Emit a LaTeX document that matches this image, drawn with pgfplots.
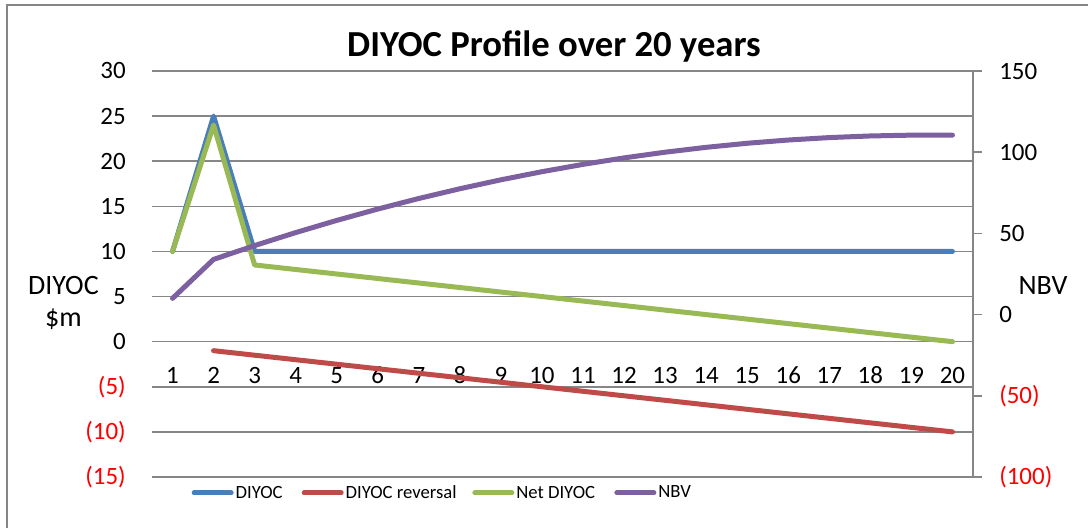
\documentclass[border=0pt]{standalone}
\usepackage{pgfplots}
\pgfplotsset{compat=1.18}
\usepackage{pgfplotstable}
\usepackage{fontspec}
\setmainfont{Carlito}
\definecolor{cblue}{HTML}{4A7EBB}
\definecolor{cred}{HTML}{BE4B48}
\definecolor{cgreen}{HTML}{98B954}
\definecolor{cpurple}{HTML}{7D60A0}
\definecolor{cgrid}{HTML}{868686}

\pgfplotstableread{
x diyoc net nbv
1 10 10 10
2 25 24 34
3 10 8.5 42.5
4 10 8 50.5
5 10 7.5 58
6 10 7 65
7 10 6.5 71.5
8 10 6 77.5
9 10 5.5 83
10 10 5 88
11 10 4.5 92.5
12 10 4 96.5
13 10 3.5 100
14 10 3 103
15 10 2.5 105.5
16 10 2 107.5
17 10 1.5 109
18 10 1 110
19 10 0.5 110.5
20 10 0 110.5
}\maindata

\pgfplotstableread{
x rev
2 -1
3 -1.5
4 -2
5 -2.5
6 -3
7 -3.5
8 -4
9 -4.5
10 -5
11 -5.5
12 -6
13 -6.5
14 -7
15 -7.5
16 -8
17 -8.5
18 -9
19 -9.5
20 -10
}\revdata

\newcommand{\negred}{\ifdim\tick pt<0pt \pgfmathtruncatemacro\v{abs(\tick)}\textcolor{red}{(\v)}\else\pgfmathtruncatemacro\v{\tick}\v\fi}

\begin{document}
\begin{tikzpicture}
\path[use as bounding box] (0,0) rectangle (816pt,396pt);
\draw[cgrid, line width=1.5pt] (5.25pt,0pt) -- (5.25pt,392.25pt) -- (816pt,392.25pt);

\begin{axis}[
  at={(114pt,38.25pt)}, anchor=south west, scale only axis,
  width=615.75pt, height=304.5pt,
  xmin=0.5, xmax=20.5, ymin=-15, ymax=30,
  xtick={1,...,20}, ytick={-15,-10,...,30},
  ymajorgrids, grid style={cgrid, line width=1.1pt},
  axis line style={draw=none}, tick style={draw=none},
  tick label style={font=\fontsize{18.7}{19}\selectfont},
  yticklabel={\negred},
  yticklabel style={anchor=east, inner sep=0pt, xshift=-19.5pt},
  xticklabel={\pgfmathtruncatemacro\v{round(\tick)}\v},
  xticklabel style={anchor=base, inner sep=0pt, yshift=69.75pt},
  every axis plot/.append style={line width=3.75pt, line cap=round, line join=round},
  legend columns=4,
  legend style={at={(axis description cs:0.048,-0.0394)}, anchor=west, draw=none, fill=none,
    font=\fontsize{14}{15}\selectfont, inner sep=0pt,
    nodes={inner sep=0pt},
    column sep=0pt},
  legend image code/.code={\draw[#1] (0pt,0pt) -- (27.75pt,0pt);},
]
\addplot[cblue, no marks] table[x=x, y=diyoc] {\maindata};
\addlegendentry{\makebox[51pt][l]{\hspace{1.5pt}DIYOC}}
\addplot[cred, no marks] table[x=x, y=rev] {\revdata};
\addlegendentry{\makebox[96.5pt][l]{\hspace{1.5pt}DIYOC reversal}}
\addplot[cgreen, no marks] table[x=x, y=net] {\maindata};
\addlegendentry{\makebox[75pt][l]{\hspace{1.5pt}Net DIYOC}}
\addlegendimage{cpurple, line width=3.75pt, line cap=round}
\addlegendentry{\makebox[30pt][l]{\hspace{1.5pt}NBV}}
\end{axis}

\begin{axis}[
  at={(114pt,38.25pt)}, anchor=south west, scale only axis,
  width=615.75pt, height=304.5pt,
  xmin=0.5, xmax=20.5, ymin=-100, ymax=150,
  ytick={-100,-50,...,150},
  axis x line=none, axis y line*=right,
  axis line style={cgrid, line width=1.1pt},
  tick align=outside, major tick length=6.75pt,
  tick style={cgrid, line width=1.1pt},
  tick label style={font=\fontsize{18.7}{19}\selectfont},
  yticklabel={\negred},
  yticklabel style={anchor=west, inner sep=0pt, xshift=12.75pt},
  every axis plot/.append style={line width=3.75pt, line cap=round, line join=round},
]
\addplot[cpurple, no marks] table[x=x, y=nbv] {\maindata};
\end{axis}

\node[font=\bfseries\fontsize{27.5}{28}\selectfont] at (415.5pt,361pt) {DIYOC Profile over 20 years};
\node[font=\fontsize{21}{24}\selectfont, align=center] at (47.6pt,168.75pt) {DIYOC\\\$m};
\node[font=\fontsize{21}{24}\selectfont] at (782.25pt,182pt) {NBV};
\end{tikzpicture}
\end{document}
